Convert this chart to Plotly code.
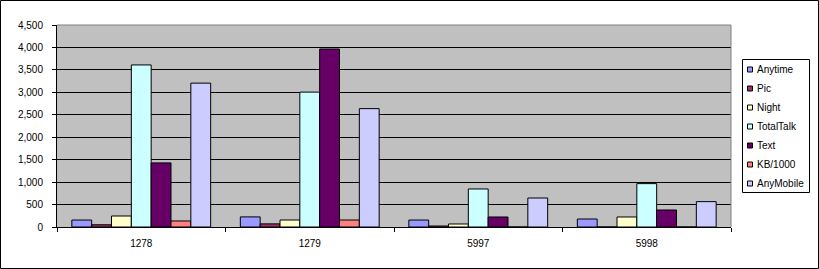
import plotly.graph_objects as go

categories = ["1278", "1279", "5997", "5998"]
series_names = ["Anytime", "Pic", "Night", "TotalTalk", "Text", "KB/1000", "AnyMobile"]
anytime = [155, 225, 155, 178]
pic = [50, 70, 22, 0]
night = [245, 156, 67, 223]
totaltalk = [3610, 3005, 847, 966]
text = [1428, 3965, 223, 379]
kb1000 = [134, 156, 0, 0]
anymobile = [3205, 2637, 646, 565]
y_ticks = [0, 500, 1000, 1500, 2000, 2500, 3000, 3500, 4000, 4500]

values = [anytime, pic, night, totaltalk, text, kb1000, anymobile]
colors = ["#9999FF", "#993366", "#FFFFCC", "#CCFFFF", "#660066", "#FF8080", "#CCCCFF"]

W, H = 819, 269
L, R, T, B = 57, 731, 25, 227
pw, ph = R - L, B - T


def px(x):
    return (x - L) / pw


def py(y):
    return (B - y) / ph


fig = go.Figure()
for name, vals, col in zip(series_names, values, colors):
    fig.add_trace(go.Bar(
        x=categories, y=vals, name=name,
        marker=dict(color=col, line=dict(color="black", width=1)),
    ))

FONT = "Arial, 'Liberation Sans', sans-serif"

shapes = [
    # outer chart border
    dict(type="rect", xref="paper", yref="paper",
         x0=px(0.5), x1=px(W - 0.5), y0=py(H - 0.5), y1=py(0.5),
         line=dict(color="black", width=1), layer="above"),
    # plot area border top/right (gray)
    dict(type="line", xref="paper", yref="paper", x0=0, x1=1, y0=1, y1=1,
         line=dict(color="#808080", width=1), layer="above"),
    dict(type="line", xref="paper", yref="paper", x0=1, x1=1, y0=0, y1=1,
         line=dict(color="#808080", width=1), layer="above"),
    # legend box
    dict(type="rect", xref="paper", yref="paper",
         x0=px(742.5), x1=px(809.5), y0=py(192.5), y1=py(59.5),
         line=dict(color="black", width=1), fillcolor="white", layer="above"),
]
annotations = []
for i, (name, col) in enumerate(zip(series_names, colors)):
    cy = 69.5 + 19 * i
    shapes.append(dict(type="rect", xref="paper", yref="paper",
                       x0=px(747.5), x1=px(752.5), y0=py(cy + 2.5), y1=py(cy - 2.5),
                       line=dict(color="black", width=1), fillcolor=col, layer="above"))
    annotations.append(dict(text=name, xref="paper", yref="paper", x=px(755), y=py(cy),
                            xanchor="left", yanchor="middle", showarrow=False,
                            font=dict(family=FONT, size=10, color="black")))

fig.update_layout(
    width=W, height=H,
    margin=dict(l=L, r=W - R, t=T, b=H - B, pad=0),
    paper_bgcolor="white", plot_bgcolor="#C0C0C0",
    barmode="group", bargap=0.176, bargroupgap=0,
    showlegend=False,
    font=dict(family=FONT, size=10, color="black"),
    shapes=shapes, annotations=annotations,
)
fig.update_xaxes(
    type="category", tickson="boundaries", ticks="outside", ticklen=4,
    tickcolor="black", showline=True, linecolor="black", linewidth=1,
    showgrid=False, tickfont=dict(size=10), ticklabelstandoff=7,
)
fig.update_yaxes(
    range=[0, 4500], tickvals=y_ticks, tickformat=",", ticks="outside", ticklen=4,
    tickcolor="black", showline=True, linecolor="black", linewidth=1,
    showgrid=True, gridcolor="black", gridwidth=1, zeroline=False,
    tickfont=dict(size=10), ticklabelstandoff=7,
)

fig.write_html("out.html")
